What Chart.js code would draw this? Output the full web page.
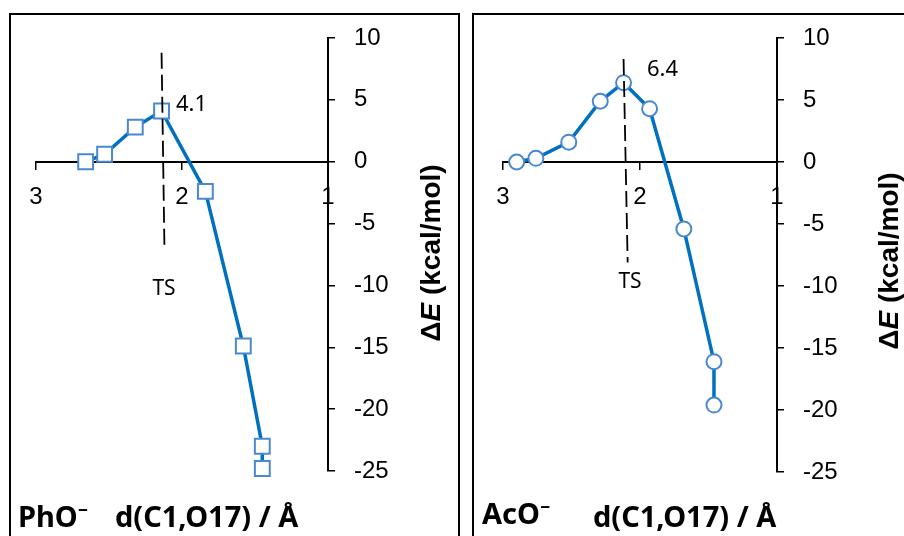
<!DOCTYPE html>
<html lang="en">
<head>
<meta charset="UTF-8">
<script src="https://cdn.jsdelivr.net/npm/chart.js"></script>
<title>PhO- / AcO- energy profiles</title>
<style>
  body { margin: 0; background: #fff; }
  #wrap { position: relative; width: 904px; height: 536px; overflow: hidden; }
  canvas { position: absolute; left: 0; top: 0; }
</style>
</head>
<body>
<div id="wrap">
  <canvas id="phoChart" width="904" height="536"></canvas>
  <canvas id="acoChart" width="904" height="536"></canvas>
</div>
<script>
// PhO- scan: d(C1,O17) in Angstrom, energy in kcal/mol
const phoDist   = [2.66, 2.53, 2.32, 2.14, 1.84, 1.58, 1.45, 1.45];
const phoEnergy = [0.0, 0.6, 2.8, 4.1, -2.4, -14.9, -23.0, -24.8];
// AcO- scan
const acoDist   = [2.90, 2.76, 2.52, 2.29, 2.12, 1.93, 1.68, 1.46, 1.46];
const acoEnergy = [0.0, 0.3, 1.6, 4.9, 6.4, 4.3, -5.4, -16.1, -19.6];

// dashed TS lines (top point, bottom point)
const phoTsX = [2.14, 2.12];
const phoTsY = [8.8, -7.2];
const acoTsX = [2.12, 2.09];
const acoTsY = [8.3, -8.1];

const xTicks = [3, 2, 1];
const yTicks = [10, 5, 0, -5, -10, -15, -20, -25];

const LINE_BLUE = '#0070C0';
const MARK_BLUE = '#4A88D2';
const Y_AXIS_BOX = 100; // width kept for the right-hand tick labels

function drawYTitle(ctx, cx, cy) {
  const parts = [['\u0394', 'bold'], ['E', 'italic bold'], [' (kcal/mol)', 'bold']];
  const size = 28;
  ctx.save();
  ctx.translate(cx, cy);
  ctx.rotate(-Math.PI / 2);
  ctx.fillStyle = '#000';
  ctx.textBaseline = 'middle';
  let total = 0;
  parts.forEach(p => {
    ctx.font = p[1] + ' ' + size + 'px "Liberation Sans"';
    total += ctx.measureText(p[0]).width;
  });
  let x = -total / 2;
  parts.forEach(p => {
    ctx.font = p[1] + ' ' + size + 'px "Liberation Sans"';
    ctx.fillText(p[0], x, 0);
    x += ctx.measureText(p[0]).width;
  });
  ctx.restore();
}

function textPlugin(notes) {
  return {
    id: 'notes',
    afterDraw(chart) {
      const ctx = chart.ctx;
      ctx.save();
      if (notes.frames) {
        ctx.strokeStyle = '#000';
        ctx.lineWidth = 2;
        ctx.strokeRect(10, 14, 449, 540);
        ctx.strokeRect(473, 14, 450, 540);
      }
      ctx.fillStyle = '#000';
      ctx.textBaseline = 'alphabetic';
      ctx.textAlign = 'left';
      ctx.font = '22px "Noto Sans"';
      ctx.fillText(notes.peak[0], notes.peak[1], notes.peak[2]);
      ctx.font = '21px "Noto Sans"';
      ctx.textAlign = 'center';
      ctx.fillText('TS', notes.ts[0], notes.ts[1]);
      ctx.textAlign = 'left';
      ctx.font = 'bold 29px "Noto Sans"';
      ctx.fillText(notes.name[0], notes.name[1], notes.name[2]);
      ctx.fillText('d(C1,O17) / \u00c5', notes.axis[0], notes.axis[1]);
      ctx.restore();
      drawYTitle(ctx, notes.ytitle[0], notes.ytitle[1]);
    }
  };
}

function makeChart(id, xs, ys, tsX, tsY, marker, pad, notes) {
  const pts = xs.map((x, i) => ({x: x, y: ys[i]}));
  const ts = tsX.map((x, i) => ({x: x, y: tsY[i]}));
  const axisGrid = { display: true, drawOnChartArea: false, drawTicks: true, tickLength: 7, color: '#000', lineWidth: 1.5 };
  const axisBorder = { display: true, color: '#000', width: 2 };
  return new Chart(document.getElementById(id), {
    type: 'line',
    data: {
      datasets: [
        {
          data: pts, order: 1,
          borderColor: LINE_BLUE, borderWidth: 3.5, tension: 0,
          pointStyle: marker, pointRadius: marker === 'rect' ? 10.5 : 7.5,
          pointBorderWidth: 2, pointBorderColor: MARK_BLUE, pointBackgroundColor: '#fff',
          clip: false
        },
        {
          data: ts, order: 0,
          borderColor: '#000', borderWidth: 1.8, borderDash: [16, 6],
          pointRadius: 0, clip: false
        }
      ]
    },
    options: {
      responsive: false,
      animation: false,
      layout: { padding: pad },
      plugins: { legend: { display: false }, tooltip: { enabled: false } },
      scales: {
        x: {
          type: 'linear', reverse: true, min: 1, max: 3,
          position: { y: 0 },
          afterFit: s => { s.height = 0; },
          afterBuildTicks: s => { s.ticks = xTicks.map(v => ({value: v})); },
          grid: axisGrid, border: axisBorder,
          ticks: { padding: 14, color: '#000', font: { family: 'Liberation Sans', size: 24 } }
        },
        y: {
          type: 'linear', position: 'right', min: -25, max: 10,
          afterFit: s => { s.width = Y_AXIS_BOX; },
          afterBuildTicks: s => { s.ticks = yTicks.map(v => ({value: v})); },
          grid: axisGrid, border: axisBorder,
          ticks: { padding: 19, color: '#000', font: { family: 'Liberation Sans', size: 24 } }
        }
      }
    },
    plugins: [textPlugin(notes)]
  });
}

makeChart('phoChart', phoDist, phoEnergy, phoTsX, phoTsY, 'rect',
  { left: 36, right: 576 - Y_AXIS_BOX, top: 38, bottom: 65 },
  { frames: true, peak: ['4.1', 176, 111], ts: [164, 295], name: ['PhO\u207b', 18, 527],
    axis: [115, 527], ytitle: [432, 253] });

makeChart('acoChart', acoDist, acoEnergy, acoTsX, acoTsY, 'circle',
  { left: 503, right: 127 - Y_AXIS_BOX, top: 38, bottom: 64 },
  { frames: false, peak: ['6.4', 647, 76], ts: [630, 288], name: ['AcO\u207b', 482, 524],
    axis: [593, 527], ytitle: [890, 261] });
</script>
</body>
</html>
